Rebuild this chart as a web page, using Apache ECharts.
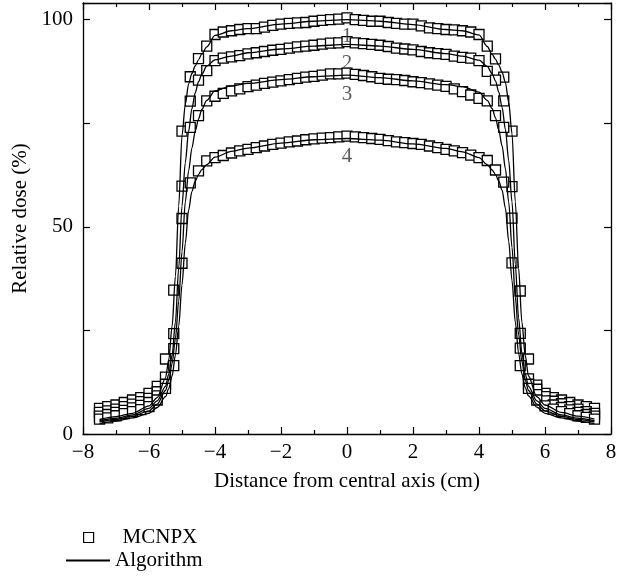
<!DOCTYPE html>
<html>
<head>
<meta charset="utf-8">
<title>Relative dose profiles</title>
<script src="https://cdn.jsdelivr.net/npm/echarts@6/dist/echarts.min.js"></script>
<style>
html, body { margin: 0; padding: 0; background: #fff; }
#chart { width: 626px; height: 581px; }
</style>
</head>
<body>
<div id="chart"></div>
<script>
// MCNPX points, every 0.25 cm
var mcnpxX = [-7.5,-7.25,-7,-6.75,-6.5,-6.25,-6,-5.75,-5.5,-5.25,-5,-4.75,-4.5,-4.25,-4,-3.75,-3.5,-3.25,-3,-2.75,-2.5,-2.25,-2,-1.75,-1.5,-1.25,-1,-0.75,-0.5,-0.25,0,0.25,0.5,0.75,1,1.25,1.5,1.75,2,2.25,2.5,2.75,3,3.25,3.5,3.75,4,4.25,4.5,4.75,5,5.25,5.5,5.75,6,6.25,6.5,6.75,7,7.25,7.5];
var mcnpx1 = [6.2,6.6,7.0,7.6,8.2,8.8,9.8,11.5,18.1,34.7,
	73.1,86.2,90.6,93.6,96.4,97.0,97.3,97.6,97.8,97.8,
	98.2,98.6,98.9,99.1,99.2,99.3,99.6,99.8,100.0,100.1,
	100.4,
	100.0,99.8,99.6,99.6,99.3,99.1,98.9,98.9,98.5,98.0,
	97.8,97.6,97.5,97.3,97.0,96.4,93.6,90.5,86.1,73.1,
	34.5,18.1,11.8,9.8,8.8,8.2,7.6,7.0,6.6,6.2];
var mcnpx2 = [5.2,5.6,6.0,6.6,7.2,7.8,8.6,10.2,13.7,24.2,
	59.8,80.3,85.4,87.7,90.1,90.7,91.0,91.3,91.7,92.0,
	92.3,92.6,92.8,93.1,93.4,93.6,93.8,94.1,94.3,94.4,
	94.7,
	94.4,94.2,94.0,93.8,93.5,93.1,92.9,92.7,92.3,92.0,
	91.8,91.6,91.2,90.9,90.7,90.1,87.5,85.4,80.4,59.7,
	24.3,13.3,10.8,9.0,7.9,7.3,6.6,6.0,5.4,5.0];
var mcnpx3 = [4.3,4.7,5.2,5.7,6.3,6.9,7.6,9.2,12.0,20.6,
	52.0,74.0,76.8,80.4,81.5,82.2,82.8,83.3,83.8,84.2,
	84.6,84.9,85.2,85.5,85.8,86.1,86.3,86.6,86.9,86.9,
	87.1,
	86.8,86.5,86.2,85.8,85.6,85.5,85.3,85.0,84.8,84.5,
	84.2,83.9,83.3,82.6,81.8,81.0,80.4,76.8,74.0,52.1,
	20.7,12.0,9.5,8.0,7.0,6.4,5.8,5.2,4.7,4.3];
var mcnpx4 = [3.6,3.9,4.4,4.9,5.4,5.9,6.6,8.2,11.0,16.5,
	41.2,60.6,63.5,65.9,66.7,67.2,67.8,68.3,68.7,69.1,
	69.5,69.9,70.2,70.5,70.7,71.0,71.2,71.4,71.5,71.7,
	71.9,
	71.7,71.5,71.3,71.1,70.8,70.5,70.3,70.1,69.9,69.5,
	69.1,68.7,68.3,67.9,67.3,66.7,66.0,63.7,60.8,41.3,
	16.5,11.0,8.2,6.8,6.0,5.4,4.9,4.4,4.0,3.6];

// algorithm curves, denser in the penumbra
var algX = [-7.5,-7,-6.5,-6,-5.75,-5.5,-5.4,-5.3,-5.2,-5.1,-5,-4.9,-4.8,-4.7,-4.6,-4.5,-4.4,-4.25,-4,-3.5,-3,-2,-1,0,1,2,3,3.5,4,4.25,4.4,4.5,4.6,4.7,4.8,4.9,5,5.1,5.2,5.3,5.4,5.5,5.75,6,6.5,7,7.5];
var alg1 = [3.5,4.2,5.0,6.8,8.8, 13.5,18,26,38,55, 72,79.5,84.5,87.0,88.8, 90.3,91.7,93.4,96.2,97.3,
	97.8,98.9,99.6,100,99.6, 98.8,97.6,97.3,96.3,93.5, 91.6,90.4,89.0,87.3,84.8,
	80,72.5,56,40,27, 19,14,9,7,5.2, 4.3,3.6];
var alg2 = [3.2,3.8,4.6,6.2,8.0, 11.5,14.5,19,27,40, 55,65.5,73,78.5,82.3, 85,86.8,88.8,90.3,91.2,
	92.0,92.9,93.6,94.0,93.6, 92.8,91.8,91.2,90.2,88.7, 86.9,85.2,82.5,78.8,73.5,
	66,56,41,28,19.5, 14.5,11.5,8,6.2,4.6, 3.8,3.2];
var alg3 = [2.9,3.5,4.3,5.6,7.2, 10.5,13,17,23,32, 44,56,63.5,69,73, 76,78.3,80.5,82.8,84.0,
	84.6,85.5,86.2,86.6,86.0, 85.2,84.3,83.8,82.5,80.5, 78.5,76.3,73.3,69.5,64,
	56,45,33,24,17.5, 13,10.5,7.2,5.6,4.3, 3.5,2.9];
var alg4 = [2.5,3.1,3.9,5.0,6.4, 9.0,11,14,19,26, 36,46,54,58.5,61, 62.6,63.8,65.0,66.8,68.2,
	69.0,70.2,71.0,71.3,70.9, 70.0,68.9,68.1,66.7,65.0, 63.7,62.6,61,58.8,54.5,
	46.5,37,27,19.5,14.5, 11.2,9.2,6.5,5.0,3.9, 3.1,2.5];

var curveNames = ['1', '2', '3', '4'];
var curveLabelY = [95.8, 89.4, 82.0, 67.0];

var fontFamily = '"Liberation Serif", "DejaVu Serif", serif';
var fontSize = 21;

function pairs(xs, ys) {
	return xs.map(function (x, i) { return [x, ys[i]]; });
}

var series = [];
[alg1, alg2, alg3, alg4].forEach(function (ys) {
	series.push({
		name: 'Algorithm',
		type: 'line',
		data: pairs(algX, ys),
		symbol: 'none',
		smooth: 0.3,
		smoothMonotone: 'x',
		lineStyle: { color: '#000', width: 1.3 },
		itemStyle: { color: '#000' },
		z: 3
	});
});
[mcnpx1, mcnpx2, mcnpx3, mcnpx4].forEach(function (ys) {
	series.push({
		name: 'MCNPX',
		type: 'scatter',
		data: pairs(mcnpxX, ys),
		symbol: 'rect',
		symbolSize: 10,
		itemStyle: { color: '#fff', borderColor: '#000', borderWidth: 1.3, opacity: 1 },
		z: 2
	});
});
series.push({
	name: 'labels',
	type: 'scatter',
	symbolSize: 0,
	silent: true,
	z: 4,
	data: curveNames.map(function (n, i) {
		return { value: [0, curveLabelY[i]], label: { formatter: n } };
	}),
	label: {
		show: true,
		position: 'inside',
		color: '#333',
		fontFamily: fontFamily,
		fontSize: fontSize
	}
});

var xTickFmt = function (v) {
	return v < 0 ? '\u2212' + Math.abs(v) : String(v);
};

var frameLine = { onZero: false, lineStyle: { color: '#000', width: 1.3 } };
var tickStyle = { color: '#000', width: 1.2 };

var option = {
	animation: false,
	backgroundColor: '#fff',
	textStyle: { fontFamily: fontFamily, color: '#000' },
	grid: { left: 83, right: 15, top: 3, bottom: 147 },
	legend: [
		{
			left: 83, top: 527, padding: 0,
			itemWidth: 10, itemHeight: 10,
			textStyle: { fontFamily: fontFamily, fontSize: fontSize, color: '#000', padding: [0, 0, 0, 24] },
			data: [{ name: 'MCNPX', icon: 'rect', itemStyle: { color: '#fff', borderColor: '#000', borderWidth: 1.2 } }]
		},
		{
			left: 65, top: 550, padding: 0,
			itemWidth: 44, itemHeight: 14,
			textStyle: { fontFamily: fontFamily, fontSize: fontSize, color: '#000' },
			data: [{ name: 'Algorithm', itemStyle: { color: 'transparent', borderWidth: 0 } }]
		}
	],
	xAxis: [
		{
			type: 'value',
			position: 'bottom',
			min: -8, max: 8, interval: 2,
			name: 'Distance from central axis (cm)',
			nameLocation: 'middle',
			nameGap: 37,
			nameTextStyle: { fontFamily: fontFamily, fontSize: fontSize, color: '#000' },
			axisLine: frameLine,
			axisTick: { inside: true, length: 7, lineStyle: tickStyle },
			minorTick: { show: true, splitNumber: 2, length: 4, lineStyle: tickStyle },
			axisLabel: { margin: 8, fontSize: fontSize, color: '#000', fontFamily: fontFamily, formatter: xTickFmt },
			splitLine: { show: false }
		},
		{
			type: 'value',
			position: 'top',
			min: -8, max: 8, interval: 2,
			axisLine: frameLine,
			axisTick: { inside: true, length: 7, lineStyle: tickStyle },
			minorTick: { show: true, splitNumber: 2, length: 4, lineStyle: tickStyle },
			axisLabel: { show: false },
			splitLine: { show: false }
		}
	],
	yAxis: [
		{
			type: 'value',
			position: 'left',
			min: 0, max: 104, interval: 25,
			name: 'Relative dose (%)',
			nameLocation: 'middle',
			nameGap: 51,
			nameTextStyle: { fontFamily: fontFamily, fontSize: fontSize, color: '#000' },
			axisLine: { show: true, onZero: false, lineStyle: { color: '#000', width: 1.3 } },
			axisTick: { show: true, inside: true, length: 7, lineStyle: tickStyle },
			axisLabel: {
				margin: 10, fontSize: fontSize, color: '#000', fontFamily: fontFamily,
				formatter: function (v) { return v % 50 === 0 ? String(v) : ''; }
			},
			splitLine: { show: false }
		},
		{
			type: 'value',
			position: 'right',
			min: 0, max: 104, interval: 25,
			axisLine: { show: true, onZero: false, lineStyle: { color: '#000', width: 1.3 } },
			axisTick: { show: true, inside: true, length: 7, lineStyle: tickStyle },
			axisLabel: { show: false },
			splitLine: { show: false }
		}
	],
	series: series
};

var chart = echarts.init(document.getElementById('chart'));
chart.setOption(option);
</script>
</body>
</html>
